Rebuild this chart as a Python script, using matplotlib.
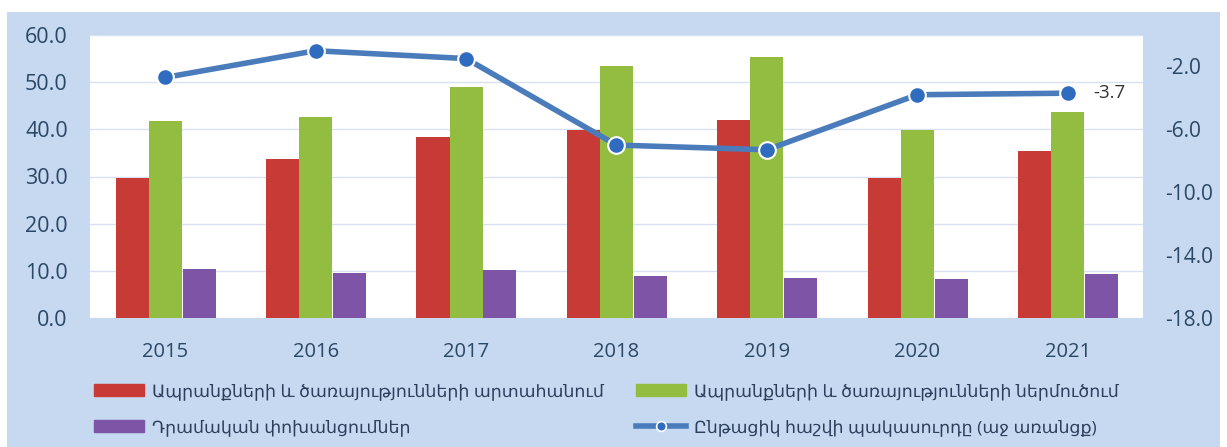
import matplotlib
matplotlib.use("Agg")
import matplotlib.pyplot as plt
from matplotlib.patches import Rectangle, Patch
from matplotlib.lines import Line2D
import numpy as np

plt.rcParams['font.family'] = ['Open Sans', 'DejaVu Sans']

years = ['2015', '2016', '2017', '2018', '2019', '2020', '2021']
export = [29.7, 33.7, 38.4, 39.9, 42.0, 29.7, 35.4]
imports = [41.8, 42.6, 49.0, 53.4, 55.3, 39.9, 43.7]
transfers = [10.4, 9.5, 10.2, 8.9, 8.5, 8.3, 9.3]
deficit = [-2.7, -1.0, -1.5, -7.0, -7.3, -3.8, -3.7]

labels = ['Ապրանքների և ծառայությունների արտահանում',
          'Ապրանքների և ծառայությունների ներմուծում',
          'Դրամական փոխանցումներ',
          'Ընթացիկ հաշվի պակասուրդը (աջ առանցք)']

c_red = '#c73a35'
c_green = '#93bd41'
c_purple = '#7e55a6'
c_line = '#4a7cbc'
c_txt = '#2b4766'
bg = '#c6d9f0'

W, H = 1227, 447
fig = plt.figure(figsize=(W / 100, H / 100), dpi=100, facecolor='white')
fig.patches.append(Rectangle((7 / W, 0), 1213 / W, 435 / H, transform=fig.transFigure,
                             facecolor=bg, edgecolor='none', zorder=-10))

ax = fig.add_axes([90 / W, 1 - 318 / H, 1053 / W, 283 / H])
ax.set_facecolor('white')
x = np.arange(len(years))
bw = 0.22
ax.bar(x - bw, export, bw, color=c_red, zorder=3)
ax.bar(x, imports, bw, color=c_green, zorder=3)
ax.bar(x + bw + 0.005, transfers, bw, color=c_purple, zorder=3)
ax.set_xlim(-0.5, 6.5)
ax.set_ylim(0, 60)
ax.set_yticks(np.arange(0, 61, 10))
ax.set_yticklabels(['%.1f' % v for v in np.arange(0, 61, 10)])
ax.set_xticks(x)
ax.set_xticklabels(years)
ax.grid(axis='y', color='#d8e1f0', lw=1, zorder=0)
for s in ax.spines.values():
    s.set_visible(False)
ax.tick_params(axis='y', length=0, pad=16, labelsize=15.5, labelcolor=c_txt)
ax.tick_params(axis='x', length=0, pad=17, labelsize=14.5, labelcolor=c_txt)

ax2 = ax.twinx()
ax2.plot(x, deficit, color=c_line, lw=4, marker='o', ms=12, mfc='#2f6bbf',
         mec='white', mew=1.5, zorder=5)
ax2.set_ylim(-18, 0)
ax2.set_yticks(np.arange(-18, 0, 4))
ax2.set_yticklabels(['%.1f' % v for v in np.arange(-18, 0, 4)])
for s in ax2.spines.values():
    s.set_visible(False)
ax2.tick_params(axis='y', length=0, pad=16, labelsize=15, labelcolor=c_txt)
ax2.annotate('%.1f' % deficit[-1], (x[-1], deficit[-1]), xytext=(18, 0),
             textcoords='offset points', va='center', ha='left', fontsize=13.5, color='#333333')

handles = [Patch(color=c_red), Patch(color=c_purple), Patch(color=c_green),
           Line2D([], [], color=c_line, lw=4, marker='o', ms=7, mfc='#2f6bbf', mec='white', mew=1.2)]
leg = fig.legend(handles, [labels[0], labels[2], labels[1], labels[3]], ncol=2,
                 loc='upper left', bbox_to_anchor=(78 / W, 1 - 368 / H), frameon=False,
                 fontsize=12.5, handlelength=2.9, handletextpad=0.45, columnspacing=1.85,
                 labelspacing=1.1, labelcolor='#2b3f5c')

fig.savefig('out.png', dpi=100, facecolor='white')
